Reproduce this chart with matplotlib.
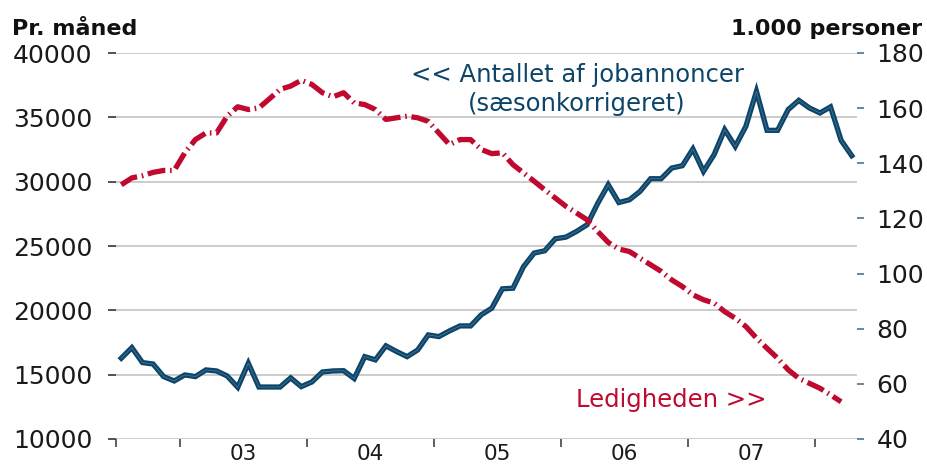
import numpy as np
import matplotlib
matplotlib.use("Agg")
import matplotlib.pyplot as plt

plt.rcParams['font.family'] = ['DejaVu Sans']

# jobannoncer pr. maaned, jul 2002 - apr 2008 (venstre akse)
jobannoncer = [16280, 17100, 15940, 15830, 14850, 14510, 14980, 14850, 15370, 15290,
               14900, 14020, 15890, 14040, 14040, 14040, 14750, 14070, 14430, 15210,
               15290, 15310, 14700, 16400, 16150, 17240, 16800, 16400, 16920, 18090,
               17960, 18400, 18790, 18790, 19650, 20170, 21670, 21720, 23400, 24450,
               24630, 25560, 25690, 26130, 26650, 28300, 29760, 28380, 28590, 29240,
               30230, 30230, 31060, 31240, 32540, 30800, 32100, 34040, 32740, 34300,
               37020, 33990, 33990, 35600, 36320, 35730, 35340, 35810, 33210, 32020]

# ledighed, 1.000 personer, jul 2002 - mar 2008 (hoejre akse)
ledighed = [132.2, 134.7, 135.5, 136.7, 137.4, 137.4, 143.8, 148.6, 151.0, 151.0,
            157.1, 160.5, 159.5, 160.1, 163.4, 166.8, 168.0, 170.1, 168.6, 165.6,
            164.1, 165.6, 161.9, 161.3, 159.5, 155.9, 156.5, 157.1, 156.5, 155.2,
            151.0, 146.8, 148.6, 148.6, 145.0, 143.5, 143.8, 139.5, 136.5, 133.5,
            130.4, 127.4, 124.4, 122.0, 119.5, 115.3, 111.3, 108.9, 108.0, 105.6,
            103.2, 100.8, 97.7, 95.3, 92.3, 90.5, 89.3, 86.2, 83.8, 80.8,
            76.6, 72.9, 69.3, 65.1, 62.0, 60.2, 58.4, 56.0, 53.5]

aar_labels = ['03', '04', '05', '06', '07']
venstre_ticks = [10000, 15000, 20000, 25000, 30000, 35000, 40000]
hoejre_ticks = [40, 60, 80, 100, 120, 140, 160, 180]

blaa = '#0c4569'
roed = '#c0092e'

fig = plt.figure(figsize=(9.28, 4.7), dpi=100)
ax = fig.add_axes([116 / 928, 1 - 439 / 470, 741 / 928, 386 / 470])
ax2 = ax.twinx()

x1 = np.arange(len(jobannoncer))
x2 = np.arange(len(ledighed))

ax.plot(x1, jobannoncer, color=blaa, lw=3.8, solid_joinstyle='miter', zorder=3)
ax.plot(x1, jobannoncer, color='#6f93ad', lw=0.6, alpha=0.6, zorder=4)
ax2.plot(x2, ledighed, color=roed, lw=3.8, linestyle=(0, (3.4, 0.9, 0.3, 0.9)), zorder=3)

ax.set_xlim(-0.5, 69.5)
ax.set_ylim(10000, 40000)
ax2.set_ylim(40, 180)

ax.set_yticks(venstre_ticks)
ax.set_yticklabels([str(v) for v in venstre_ticks])
ax2.set_yticks(hoejre_ticks)
ax2.set_yticklabels([str(v) for v in hoejre_ticks])

# aarsskift som ticks, aarstal midt i aaret
ax.set_xticks([-0.5, 5.5, 17.5, 29.5, 41.5, 53.5, 65.5])
ax.set_xticklabels([])
ax.set_xticks([11.5, 23.5, 35.5, 47.5, 59.5], minor=True)
ax.set_xticklabels(aar_labels, minor=True)

ax.grid(axis='y', color='#c4c4c4', lw=1.2)
ax.set_axisbelow(True)

for a in (ax, ax2):
    for s in a.spines.values():
        s.set_visible(False)

ax.tick_params(axis='y', length=6, width=1.2, color='#333333', pad=11,
               labelsize=18, labelcolor='#1a1a1a')
ax.tick_params(axis='x', which='major', length=6, width=1.2, color='#444444')
ax.tick_params(axis='x', which='minor', length=0, pad=3.5, labelsize=15.5, labelcolor='#1a1a1a')
ax2.tick_params(axis='y', length=5, width=1.2, color='#4d7392', pad=9,
                labelsize=18, labelcolor='#1a1a1a')

fig.text(12 / 928, 1 - 35 / 470, 'Pr. måned', fontsize=16, fontweight='bold',
         color='#111111', ha='left', va='baseline')
fig.text(922 / 928, 1 - 35 / 470, '1.000 personer', fontsize=16, fontweight='bold',
         color='#111111', ha='right', va='baseline')

ax.text(0.623, 0.943, '<< Antallet af jobannoncer', transform=ax.transAxes,
        fontsize=17.5, color=blaa, ha='center', va='center')
ax.text(0.622, 0.868, '(sæsonkorrigeret)', transform=ax.transAxes,
        fontsize=17.5, color=blaa, ha='center', va='center')
ax.text(0.749, 0.101, 'Ledigheden >>', transform=ax.transAxes,
        fontsize=17.5, color=roed, ha='center', va='center')

fig.savefig('out.png', dpi=100)
